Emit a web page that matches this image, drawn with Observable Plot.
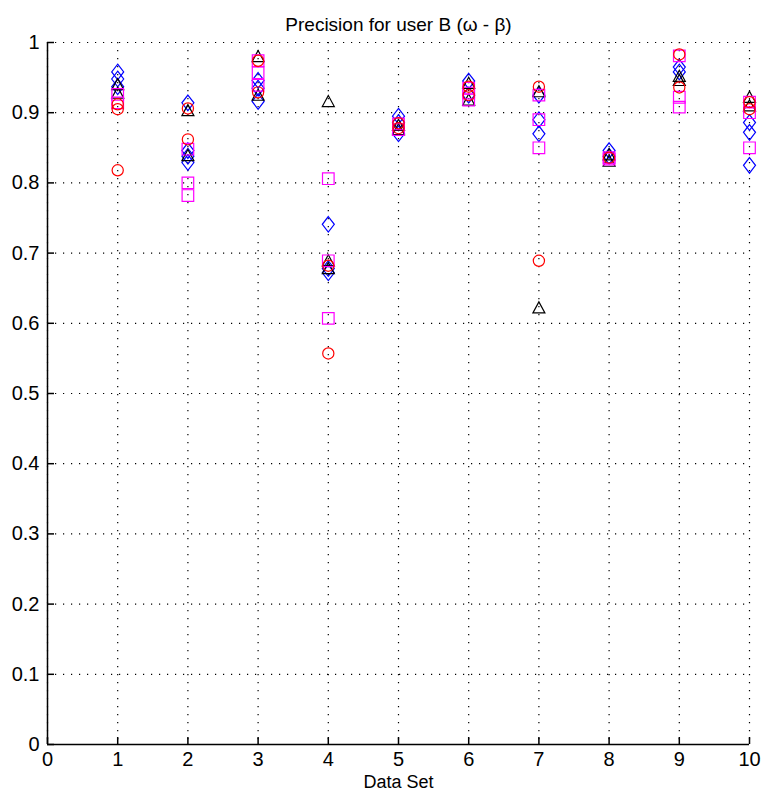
<!DOCTYPE html>
<html>
<head>
<meta charset="utf-8">
<script src="https://cdn.jsdelivr.net/npm/d3@7"></script>
<script src="https://cdn.jsdelivr.net/npm/@observablehq/plot@0.6"></script>
<style>
  html, body { margin: 0; padding: 0; background: #fff; }
</style>
</head>
<body>
<div id="chart"></div>
<script>
const title = "Precision for user B (\u03c9 - \u03b2)";
const xLabel = "Data Set";
const dataSets = [1, 2, 3, 4, 5, 6, 7, 8, 9, 10];
const xTicks = [0, 1, 2, 3, 4, 5, 6, 7, 8, 9, 10];
const yTicks = [0, 0.1, 0.2, 0.3, 0.4, 0.5, 0.6, 0.7, 0.8, 0.9, 1];
const yTickLabels = ["0", "0.1", "0.2", "0.3", "0.4", "0.5", "0.6", "0.7", "0.8", "0.9", "1"];

// values per data set (index 0 = data set 1)
const redCircles = [
  [0.912, 0.905, 0.818],
  [0.906, 0.862],
  [0.974, 0.929],
  [0.682, 0.557],
  [0.885, 0.878],
  [0.937, 0.925],
  [0.937, 0.689],
  [0.836],
  [0.983, 0.936],
  [0.915, 0.905]
];
const blueDiamonds = [
  [0.958, 0.948, 0.937],
  [0.914, 0.846, 0.838, 0.829],
  [0.946, 0.935, 0.916],
  [0.741, 0.678, 0.672],
  [0.895, 0.886, 0.870],
  [0.945, 0.925],
  [0.925, 0.890, 0.870],
  [0.846, 0.838],
  [0.965, 0.958],
  [0.886, 0.872, 0.825]
];
const blackTriangles = [
  [0.940, 0.928],
  [0.903, 0.839],
  [0.980, 0.925],
  [0.916, 0.689, 0.678],
  [0.882, 0.876],
  [0.942, 0.918],
  [0.930, 0.622],
  [0.840, 0.831],
  [0.952, 0.946],
  [0.922, 0.910]
];
const magentaSquares = [
  [0.926, 0.914],
  [0.848, 0.800, 0.782],
  [0.974, 0.957, 0.939],
  [0.806, 0.689, 0.607],
  [0.884, 0.876],
  [0.935, 0.928, 0.918],
  [0.925, 0.890, 0.850],
  [0.836, 0.834],
  [0.981, 0.922, 0.908],
  [0.915, 0.900, 0.850]
];

function rows(series) {
  return series.flatMap((vals, i) => vals.map(v => ({set: dataSets[i], value: v})));
}

const rad = s => Math.sqrt(s / Math.PI);
const symDiamond = {draw(ctx, s) { const r = rad(s); ctx.moveTo(0, -r * 1.3); ctx.lineTo(r, 0); ctx.lineTo(0, r * 1.3); ctx.lineTo(-r, 0); ctx.closePath(); }};
const symSquare = {draw(ctx, s) { const r = rad(s); ctx.moveTo(-r, -r); ctx.lineTo(r, -r); ctx.lineTo(r, r); ctx.lineTo(-r, r); ctx.closePath(); }};
const symTriangle = {draw(ctx, s) { const r = rad(s); ctx.moveTo(0, -r); ctx.lineTo(r, r * 0.85); ctx.lineTo(-r, r * 0.85); ctx.closePath(); }};
const symCircle = {draw(ctx, s) { const r = rad(s); ctx.moveTo(r, 0); ctx.arc(0, 0, r, 0, 2 * Math.PI); ctx.closePath(); }};

const font = "'Liberation Sans', Arial, sans-serif";

const chart = Plot.plot({
  width: 770,
  height: 808,
  marginLeft: 47,
  marginRight: 21,
  marginTop: 42,
  marginBottom: 64,
  style: {fontFamily: font, fontSize: "20px", color: "black", background: "white"},
  x: {domain: [0, 10]},
  y: {domain: [0, 1]},
  marks: [
    Plot.gridX(xTicks, {stroke: "black", strokeOpacity: 1, strokeWidth: 1.2, strokeDasharray: "1.2,6.8"}),
    Plot.gridY(yTicks, {stroke: "black", strokeOpacity: 1, strokeWidth: 1.2, strokeDasharray: "1.2,6.8"}),
    Plot.axisX({ticks: xTicks, tickSize: 0, tickPadding: 7, label: null, tickFormat: d => String(d)}),
    Plot.axisY({ticks: yTicks, tickSize: 0, tickPadding: 8, label: null, tickFormat: (d, i) => yTickLabels[i]}),
    Plot.ruleX(xTicks, {x: d => d, y1: 0, y2: 0.01, stroke: "black", strokeWidth: 1.5}),
    Plot.ruleY(yTicks, {y: d => d, x1: 0, x2: 0.1, stroke: "black", strokeWidth: 1.5}),
    Plot.ruleX([0], {stroke: "black", strokeWidth: 1.5}),
    Plot.ruleY([0], {stroke: "black", strokeWidth: 1.5}),
    Plot.dot(rows(blueDiamonds), {x: "set", y: "value", symbol: symDiamond, r: 6, stroke: "#0000ff", fill: "none", strokeWidth: 1.2}),
    Plot.dot(rows(blackTriangles), {x: "set", y: "value", symbol: symTriangle, r: 6, stroke: "#000000", fill: "none", strokeWidth: 1.2}),
    Plot.dot(rows(magentaSquares), {x: "set", y: "value", symbol: symSquare, r: 5.8, stroke: "#ff00ff", fill: "none", strokeWidth: 1.2}),
    Plot.dot(rows(redCircles), {x: "set", y: "value", symbol: symCircle, r: 5.6, stroke: "#ff0000", fill: "none", strokeWidth: 1.2}),
    Plot.text([title], {frameAnchor: "top", dy: -25, text: d => d, fontSize: 19, fill: "black"}),
    Plot.text([xLabel], {frameAnchor: "bottom", dy: 43, text: d => d, fontSize: 18, fill: "black"})
  ]
});
document.getElementById("chart").appendChild(chart);
</script>
</body>
</html>
